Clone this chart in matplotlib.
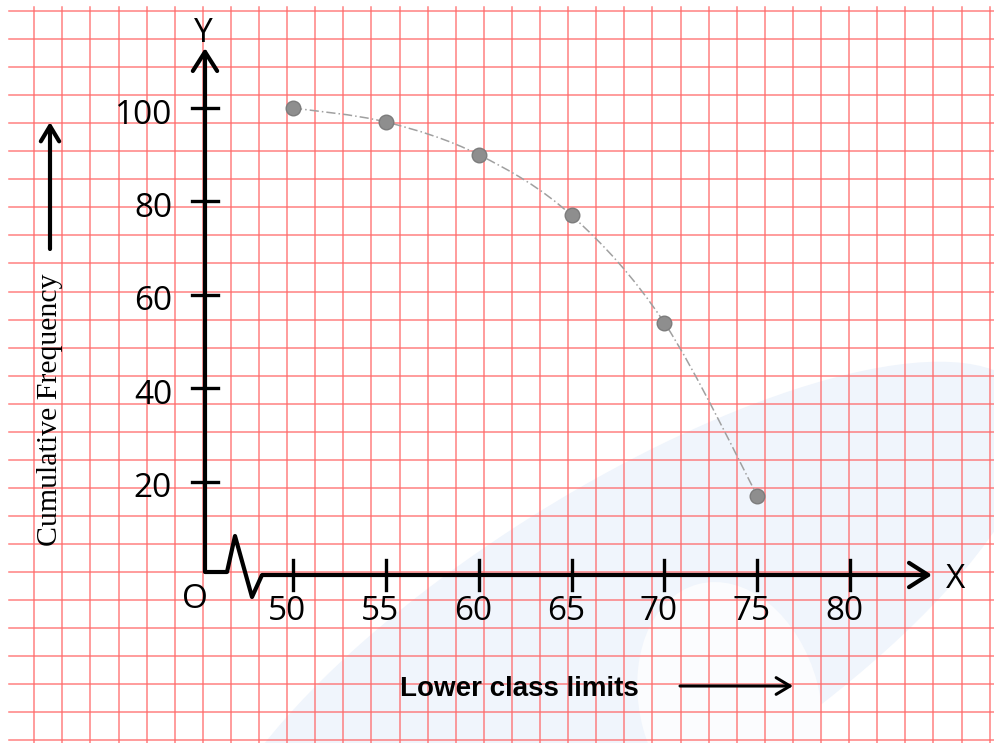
import numpy as np
import matplotlib
matplotlib.use('Agg')
import matplotlib.pyplot as plt
from matplotlib.path import Path
from matplotlib.patches import PathPatch, Ellipse

# Lower class limits and "more than" cumulative frequencies
lower_limits = [50, 55, 60, 65, 70, 75]
cum_freq = [100, 97, 90, 77, 54, 17]
x_ticks = [50, 55, 60, 65, 70, 75, 80]
y_ticks = [20, 40, 60, 80, 100]

W, H = 995, 743
# pixel calibration of the hand drawn axes
X50_PX, XSCALE = 293, 18.57   # px of x=50, px per unit
Y0_PX, YSCALE = 575, 4.67     # px of y=0, px per unit

def dx(px):
  return 50 + (px - X50_PX) / XSCALE

def dy(py):
  return (Y0_PX - py) / YSCALE

fig = plt.figure(figsize=(W / 100, H / 100), dpi=100)

# graph paper background in pixel coords
bg = fig.add_axes([0, 0, 1, 1])
bg.set_xlim(0, W)
bg.set_ylim(H, 0)
bg.axis('off')
bg.add_patch(Ellipse((620, 650), 960, 320, angle=-32, color='#f0f5fc', zorder=0, lw=0))
bg.add_patch(Ellipse((730, 705), 180, 250, angle=-15, color='#fbfcfe', zorder=0, lw=0))
for gx in np.arange(34.2, W, 28.1):
  bg.plot([gx, gx], [7, H], color='#ff6b6b', lw=1.1, alpha=0.85, zorder=1)
for gy in np.arange(11, H, 28.05):
  bg.plot([9, W], [gy, gy], color='#ff6b6b', lw=1.1, alpha=0.85, zorder=1)

# axis titles with their arrows
bg.text(50, 410, 'Cumulative Frequency', rotation=90, ha='center', va='center',
        fontsize=21.5, family='Liberation Serif', zorder=3)
bg.annotate('', xy=(50, 122), xytext=(50, 249), zorder=3,
            arrowprops=dict(arrowstyle='->,head_length=0.5,head_width=0.3', lw=3,
                            color='black', mutation_scale=22, shrinkA=0, shrinkB=0))
bg.text(519, 689, 'Lower class limits', ha='center', va='center', fontsize=20,
        family='Liberation Sans', weight='bold', zorder=3)
bg.annotate('', xy=(793, 686), xytext=(680, 686), zorder=3,
            arrowprops=dict(arrowstyle='->,head_length=0.5,head_width=0.3', lw=2.2,
                            color='black', mutation_scale=20, shrinkA=0, shrinkB=0))

# data axes
ax = fig.add_axes([0, 0, 1, 1])
ax.set_xlim(dx(0), dx(W))
ax.set_ylim(dy(H), dy(0))
ax.patch.set_alpha(0)
ax.axis('off')

origin = dx(205)
ax_kw = dict(color='black', lw=3, solid_capstyle='butt', zorder=4)
arrow = dict(arrowstyle='->,head_length=0.55,head_width=0.35', lw=3, color='black',
             mutation_scale=25, shrinkA=0, shrinkB=0)
# y axis
ax.annotate('', xy=(origin, dy(48)), xytext=(origin, dy(572)), arrowprops=arrow, zorder=4)
# broken x axis
ax.plot([origin, dx(227), dx(235), dx(252), dx(262)],
        [dy(572), dy(572), dy(536), dy(597), 0], **ax_kw)
ax.annotate('', xy=(dx(932), 0), xytext=(dx(262), 0), arrowprops=arrow, zorder=4)

sans = 'Open Sans'
half_x = 13 / XSCALE
for v in y_ticks:
  ax.plot([origin - half_x, origin + half_x], [v, v], color='black', lw=2.4, zorder=4)
  ax.text(dx(172), v - 1.5, str(v), ha='right', va='center', fontsize=24, family=sans)
half_y = 15 / YSCALE
for v in x_ticks:
  ax.plot([v, v], [-half_y, half_y], color='black', lw=2.4, zorder=4)
  ax.text(v - 0.3, dy(611), str(v), ha='center', va='center', fontsize=24, family=sans)

ax.text(dx(203), dy(33), 'Y', ha='center', va='center', fontsize=24, family=sans)
ax.text(dx(956), dy(579), 'X', ha='center', va='center', fontsize=24, family=sans)
ax.text(dx(195), dy(599), 'O', ha='center', va='center', fontsize=24, family=sans)

# freehand style smooth curve through the points (Catmull-Rom as Bezier)
pts = np.column_stack([lower_limits, cum_freq]).astype(float)
ext = np.vstack([pts[0], pts, pts[-1]])
verts = [pts[0]]
codes = [Path.MOVETO]
for i in range(1, len(ext) - 2):
  p0, p1, p2, p3 = ext[i - 1], ext[i], ext[i + 1], ext[i + 2]
  verts += [p1 + (p2 - p0) / 6, p2 - (p3 - p1) / 6, p2]
  codes += [Path.CURVE4] * 3
ax.add_patch(PathPatch(Path(verts, codes), fill=False, edgecolor='#a0a0a0', lw=1.1,
                       linestyle=(0, (6, 2, 1, 2)), zorder=5))
ax.plot(lower_limits, cum_freq, 'o', color='#8e8e8e', markeredgecolor='#7c7c7c',
        markersize=10.5, zorder=6)

fig.savefig('out.png', dpi=100)
